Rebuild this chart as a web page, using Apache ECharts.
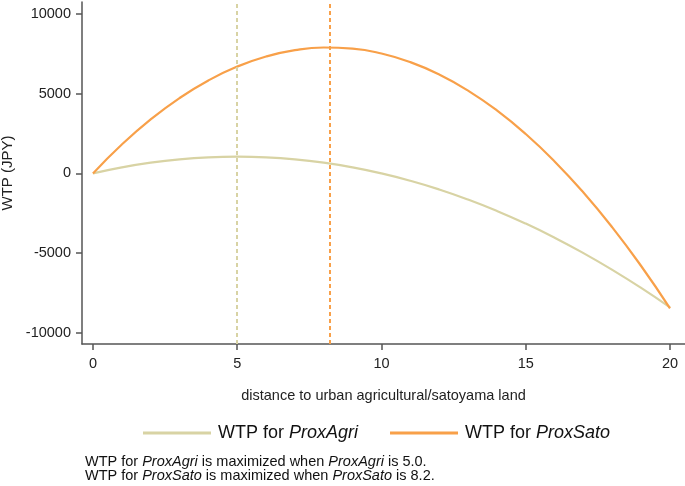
<!DOCTYPE html>
<html>
<head>
<meta charset="utf-8">
<script src="https://cdn.jsdelivr.net/npm/echarts@6.0.0/dist/echarts.min.js"></script>
<style>
  html, body { margin: 0; padding: 0; background: #fff; }
  #chart { width: 685px; height: 486px; }
</style>
</head>
<body>
<div id="chart"></div>
<script>
// values
const distance = [0, 1, 2, 3, 4, 5, 6, 7, 8, 9, 10, 11, 12, 13, 14, 15, 16, 17, 18, 19, 20];
const wtpAgri = [0, 378, 672, 882, 1008, 1050, 1008, 882, 672, 378, 0, -462, -1008, -1638, -2352, -3150, -4032, -4998, -6048, -7182, -8400];
const wtpSato = [0, 1810, 3384, 4724, 5828, 6698, 7332, 7732, 7896, 7826, 7520, 6980, 6204, 5194, 3948, 2468, 752, -1198, -3384, -5808, -8460];
const maxAgri = 5.0;
const maxSato = 8.2;
const xTicks = [0, 5, 10, 15, 20];
const yTicks = [-10000, -5000, 0, 5000, 10000];

const agriColor = '#d8d3a4';
const satoColor = '#f8a049';
const font = '"Liberation Sans", Arial, sans-serif';

const chart = echarts.init(document.getElementById('chart'));

const toPairs = ys => distance.map((x, i) => [x, ys[i]]);

chart.setOption({
  animation: false,
  textStyle: { fontFamily: font },
  grid: { left: 82, right: 0, top: 2, bottom: 142, containLabel: false, outerBoundsMode: 'none' },
  xAxis: {
    type: 'value',
    min: -0.38,
    max: 20.52,
    name: 'distance to urban agricultural/satoyama land',
    nameLocation: 'middle',
    nameGap: 44,
    nameTextStyle: { fontSize: 14.5, color: '#222', fontFamily: font },
    axisLine: { onZero: false, lineStyle: { color: '#555', width: 1.5 } },
    axisTick: { customValues: xTicks, length: 6, lineStyle: { color: '#555', width: 1.5 } },
    axisLabel: { customValues: xTicks, formatter: v => String(v), fontSize: 14.5, color: '#222', margin: 12, fontFamily: font },
    splitLine: { show: false }
  },
  yAxis: {
    type: 'value',
    min: -10700,
    max: 10750,
    name: 'WTP (JPY)',
    nameLocation: 'middle',
    nameGap: 66,
    nameTextStyle: { fontSize: 15, color: '#222', fontFamily: font },
    axisLine: { show: true, onZero: false, lineStyle: { color: '#555', width: 1.5 } },
    axisTick: { show: true, customValues: yTicks, length: 6, lineStyle: { color: '#555', width: 1.5 } },
    axisLabel: { customValues: yTicks, formatter: v => String(v), fontSize: 14.5, color: '#222', margin: 11, fontFamily: font },
    splitLine: { show: false }
  },
  legend: {
    left: 138,
    top: 419,
    itemWidth: 68,
    itemHeight: 3,
    itemGap: 32,
    icon: 'rect',
    data: ['agri', 'sato'],
    formatter: name => name === 'agri' ? '{n|WTP for }{i|ProxAgri}' : '{n|WTP for }{i|ProxSato}',
    textStyle: {
      padding: [0, 0, 0, 2],
      rich: {
        n: { fontSize: 18, color: '#111', fontFamily: font },
        i: { fontSize: 18, color: '#111', fontStyle: 'italic', fontFamily: font }
      }
    }
  },
  graphic: [{
    type: 'text',
    left: 85,
    top: 454,
    style: {
      text: '{n|WTP for }{i|ProxAgri}{n| is maximized when }{i|ProxAgri}{n| is ' + maxAgri.toFixed(1) + '.}\n' +
            '{n|WTP for }{i|ProxSato}{n| is maximized when }{i|ProxSato}{n| is ' + maxSato.toFixed(1) + '.}',
      rich: {
        n: { fontSize: 14.5, lineHeight: 14, fill: '#111', fontFamily: font },
        i: { fontSize: 14.5, lineHeight: 14, fill: '#111', fontStyle: 'italic', fontFamily: font }
      }
    }
  }],
  series: [
    {
      name: 'agri',
      type: 'line',
      data: toPairs(wtpAgri),
      smooth: true,
      showSymbol: false,
      color: agriColor,
      lineStyle: { width: 2.2, color: agriColor },
      markLine: {
        silent: true,
        symbol: ['none', 'none'],
        label: { show: false },
        lineStyle: { type: [4, 3], width: 2, color: agriColor },
        data: [{ xAxis: maxAgri }]
      },
      z: 3
    },
    {
      name: 'sato',
      type: 'line',
      data: toPairs(wtpSato),
      smooth: true,
      showSymbol: false,
      color: satoColor,
      lineStyle: { width: 2.2, color: satoColor },
      markLine: {
        silent: true,
        symbol: ['none', 'none'],
        label: { show: false },
        lineStyle: { type: [4, 3], width: 2, color: satoColor },
        data: [{ xAxis: maxSato }]
      },
      z: 4
    }
  ]
});
</script>
</body>
</html>
